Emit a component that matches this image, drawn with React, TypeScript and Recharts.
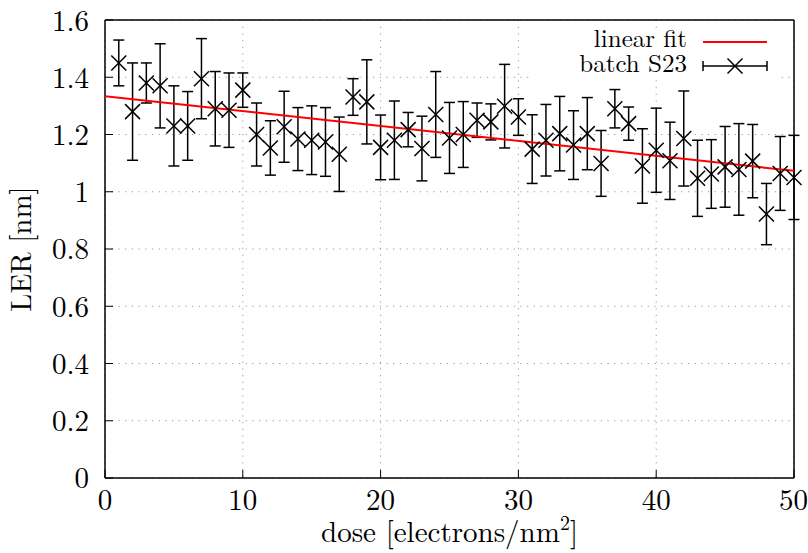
import React from 'react';
import { ComposedChart, Scatter, ErrorBar, XAxis, YAxis, CartesianGrid, Legend } from 'recharts';

// measured LER per dose step
const doses = [
    1, 2, 3, 4, 5, 6, 7, 8, 9, 10,
    11, 12, 13, 14, 15, 16, 17, 18, 19, 20,
    21, 22, 23, 24, 25, 26, 27, 28, 29, 30,
    31, 32, 33, 34, 35, 36, 37, 38, 39, 40,
    41, 42, 43, 44, 45, 46, 47, 48, 49, 50,
];
const ler = [
    1.45, 1.28, 1.38, 1.37, 1.23, 1.23, 1.395, 1.29, 1.285, 1.355,
    1.2, 1.153, 1.227, 1.184, 1.18, 1.174, 1.131, 1.331, 1.314, 1.155,
    1.18, 1.217, 1.151, 1.27, 1.188, 1.2, 1.25, 1.244, 1.299, 1.261,
    1.149, 1.18, 1.203, 1.163, 1.203, 1.099, 1.29, 1.238, 1.09, 1.145,
    1.108, 1.186, 1.047, 1.062, 1.087, 1.078, 1.107, 0.922, 1.064, 1.05,
];
const lerErr = [
    0.08, 0.17, 0.07, 0.147, 0.14, 0.12, 0.14, 0.13, 0.13, 0.06,
    0.11, 0.095, 0.124, 0.11, 0.12, 0.12, 0.13, 0.064, 0.147, 0.113,
    0.137, 0.06, 0.113, 0.15, 0.124, 0.115, 0.06, 0.063, 0.146, 0.064,
    0.12, 0.125, 0.13, 0.12, 0.126, 0.115, 0.067, 0.058, 0.13, 0.147,
    0.135, 0.166, 0.133, 0.12, 0.141, 0.16, 0.128, 0.107, 0.129, 0.147,
];

// linear fit end points
const fitDose = [0, 50];
const fitLer = [1.334, 1.073];

const xTicks = [0, 10, 20, 30, 40, 50];
const yTicks = [0, 0.2, 0.4, 0.6, 0.8, 1, 1.2, 1.4, 1.6];

const points = doses.map((d, i) => ({ dose: d, ler: ler[i], err: lerErr[i] }));
const fit = fitDose.map((d, i) => ({ dose: d, ler: fitLer[i] }));

const FONT = '"Latin Modern Roman"';

const Cross = (props: any) => {
    const { cx, cy } = props;
    const s = 7.5;
    return (
        <g stroke="#000" strokeWidth={1.5}>
            <line x1={cx - s} y1={cy - s} x2={cx + s} y2={cy + s} />
            <line x1={cx - s} y1={cy + s} x2={cx + s} y2={cy - s} />
        </g>
    );
};

const NoDot = () => <g />;

// key box, opaque like the original
const KeyBox = () => (
    <svg width={245} height={62} style={{ display: 'block' }}>
        <rect x={0} y={8} width={245} height={52} fill="#fff" />
        <text x={154} y={27} textAnchor="end" fontSize={25} style={{ fontFamily: FONT }} fill="#000">linear fit</text>
        <line x1={170} y1={22} x2={234} y2={22} stroke="#ff0000" strokeWidth={2} />
        <text x={154} y={52} textAnchor="end" fontSize={25} style={{ fontFamily: FONT }} fill="#000">batch S23</text>
        <g stroke="#000" strokeWidth={1.5}>
            <line x1={170} y1={46} x2={234} y2={46} />
            <line x1={170} y1={41} x2={170} y2={51} />
            <line x1={234} y1={41} x2={234} y2={51} />
            <line x1={194.5} y1={38.5} x2={209.5} y2={53.5} />
            <line x1={194.5} y1={53.5} x2={209.5} y2={38.5} />
        </g>
    </svg>
);

const XLabel = (props: any) => {
    const { viewBox } = props;
    const cx = viewBox.x + viewBox.width / 2;
    return (
        <text x={cx} y={viewBox.y + 64} textAnchor="middle" fontSize={29} style={{ fontFamily: FONT }} fill="#000">
            dose [electrons/nm<tspan dy={-12} fontSize={20}>2</tspan><tspan dy={12}>]</tspan>
        </text>
    );
};

const YLabel = () => (
    <text x={31} y={249} transform="rotate(-90 31 249)" textAnchor="middle" fontSize={29} style={{ fontFamily: FONT }} fill="#000">
        LER [nm]
    </text>
);

const tickStyle = { fontSize: 29, fill: '#000', style: { fontFamily: FONT } };

const App: React.FC = () => {
    return (
        <div style={{ position: 'absolute', left: 0, top: 0, background: '#fff', fontFamily: FONT }}>
            <ComposedChart
                width={808}
                height={553}
                margin={{ top: 19, right: 13, left: 0, bottom: 0 }}
            >
                <CartesianGrid stroke="#999" strokeDasharray="1.2 5.5" />
                <XAxis
                    dataKey="dose"
                    type="number"
                    domain={[0, 50]}
                    ticks={xTicks}
                    height={75}
                    axisLine={{ stroke: '#000', strokeWidth: 1.5 }}
                    tickLine={{ stroke: '#000' }}
                    tickSize={-8}
                    tickMargin={19}
                    tick={tickStyle}
                    label={<XLabel />}
                />
                <XAxis
                    xAxisId="top"
                    orientation="top"
                    type="number"
                    domain={[0, 50]}
                    ticks={xTicks}
                    height={1}
                    axisLine={{ stroke: '#000', strokeWidth: 1.5 }}
                    tickLine={{ stroke: '#000' }}
                    tickSize={-8}
                    tick={false}
                />
                <YAxis
                    type="number"
                    domain={[0, 1.6]}
                    ticks={yTicks}
                    width={105}
                    axisLine={{ stroke: '#000', strokeWidth: 1.5 }}
                    tickLine={{ stroke: '#000' }}
                    tickSize={-8}
                    tickMargin={24}
                    tick={tickStyle}
                    label={<YLabel />}
                />
                <YAxis
                    yAxisId="right"
                    orientation="right"
                    type="number"
                    domain={[0, 1.6]}
                    ticks={yTicks}
                    width={1}
                    axisLine={{ stroke: '#000', strokeWidth: 1.5 }}
                    tickLine={{ stroke: '#000' }}
                    tickSize={-8}
                    tick={false}
                />
                <Scatter
                    name="linear fit"
                    data={fit}
                    dataKey="ler"
                    line={{ stroke: '#ff0000', strokeWidth: 2 }}
                    shape={<NoDot />}
                    isAnimationActive={false}
                />
                <Scatter
                    name="batch S23"
                    data={points}
                    dataKey="ler"
                    shape={<Cross />}
                    isAnimationActive={false}
                >
                    <ErrorBar dataKey="err" direction="y" width={5.5} stroke="#000" strokeWidth={1.5} isAnimationActive={false} />
                </Scatter>
                <Legend
                    layout="vertical"
                    align="center"
                    verticalAlign="middle"
                    content={() => <KeyBox />}
                    wrapperStyle={{ left: 533, top: 20, width: 245, height: 62, right: 'auto', bottom: 'auto' }}
                />
            </ComposedChart>
        </div>
    );
};

export default App;
